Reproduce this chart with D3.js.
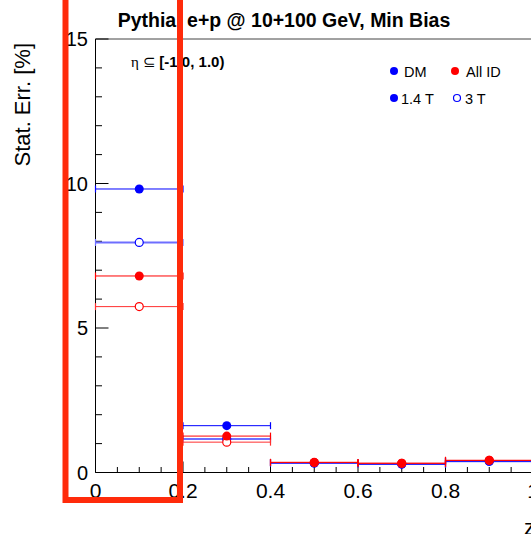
<!DOCTYPE html>
<html><head><meta charset="utf-8">
<script src="https://cdn.jsdelivr.net/npm/d3@7"></script>
<style>body{margin:0;background:#fff;} svg{display:block;font-family:"Liberation Sans",Arial,Helvetica,sans-serif;}</style>
</head><body>
<script>
const binLo = [0.0, 0.2, 0.4, 0.6, 0.8];
const binHi = [0.2, 0.4, 0.6, 0.8, 1.0];
const dm14  = [9.81, 1.62, 0.33, 0.29, 0.39];
const dm3   = [7.96, 1.16, 0.33, 0.29, 0.39];
const all14 = [6.80, 1.26, 0.35, 0.32, 0.42];
const all3  = [5.74, 1.05, 0.35, 0.32, 0.42];
const xTicks = [0, 0.2, 0.4, 0.6, 0.8, 1.0];
const yTicks = [0, 5, 10, 15];
const title = "Pythia, e+p @ 10+100 GeV, Min Bias";

const W = 531, H = 534;
const svg = d3.select("body").append("svg").attr("width", W).attr("height", H);
const x = d3.scaleLinear().domain([0, 1]).range([95.5, 533]);
const y = d3.scaleLinear().domain([0, 15]).range([472.5, 39]);

// frame
svg.append("line").attr("x1", x(0)).attr("x2", W+5).attr("y1", y(15)).attr("y2", y(15)).attr("stroke", "#444").attr("stroke-width", 1);

// x axis
const xMinor = d3.range(0, 1.0001, 0.05);
const gx = svg.append("g");
gx.append("line").attr("x1", x(0)).attr("x2", W+5).attr("y1", y(0)).attr("y2", y(0)).attr("stroke", "#000");
gx.selectAll(".mn").data(xMinor).join("line").attr("x1", d => x(d)).attr("x2", d => x(d))
  .attr("y1", y(0)).attr("y2", (d, i) => y(0) - (i % 4 === 0 ? 11 : 5.5)).attr("stroke", "#000");
gx.selectAll("text").data(xTicks).join("text").attr("x", d => x(d)).attr("y", 498)
  .attr("text-anchor", "middle").attr("font-size", 21).text(d => d3.format("")(d === 1 ? 1 : d));

// y axis
const yMinor = d3.range(0, 15.0001, 1);
const gy = svg.append("g");
gy.append("line").attr("x1", x(0)).attr("x2", x(0)).attr("y1", y(0)).attr("y2", y(15)).attr("stroke", "#000");
gy.selectAll(".mn").data(yMinor).join("line").attr("y1", d => y(d)).attr("y2", d => y(d))
  .attr("x1", x(0)).attr("x2", d => x(0) + (d % 5 === 0 ? 13 : 6.5)).attr("stroke", "#000");
gy.selectAll("text").data(yTicks).join("text").attr("x", 88).attr("y", d => y(d) + 7)
  .attr("text-anchor", "end").attr("font-size", 20).text(d => d);

// axis titles
svg.append("text").attr("transform", "translate(30,43) rotate(-90)").attr("text-anchor", "end")
  .attr("font-size", 22).text("Stat. Err. [%]");
svg.append("text").attr("x", 535).attr("y", 535).attr("text-anchor", "end").attr("font-size", 22).text("z");

// title
svg.append("text").attr("x", 284).attr("y", 27).attr("text-anchor", "middle").attr("font-size", 19.5)
  .attr("font-weight", "bold").text(title);

// eta label
const eta = svg.append("text").attr("x", 131).attr("y", 67).attr("font-size", 15);
eta.append("tspan").attr("font-family", "'Liberation Serif',serif").text("η ⊆ ");
eta.append("tspan").attr("font-weight", "bold").text("[-1.0, 1.0)");

// series
const series = [
  {vals: dm3,   color: "#0000ff", line: "#6e6eff", lw: 2, filled: false},
  {vals: dm14,  color: "#0000ff", line: "#0000ff", lw: 1, filled: true},
  {vals: all3,  color: "#ff0000", line: "#ff3030", lw: 1, filled: false},
  {vals: all14, color: "#ff0000", line: "#ff0000", lw: 1, filled: true}
];
series.forEach(s => {
  const g = svg.append("g");
  const idx = d3.range(binLo.length);
  g.selectAll(".eb").data(idx).join("line").attr("x1", i => x(binLo[i])).attr("x2", i => x(binHi[i]))
    .attr("y1", i => y(s.vals[i])).attr("y2", i => y(s.vals[i])).attr("stroke", s.line).attr("stroke-width", s.lw);
  g.selectAll(".capL").data(idx).join("line").attr("x1", i => x(binLo[i])).attr("x2", i => x(binLo[i]))
    .attr("y1", i => y(s.vals[i]) - 3.5).attr("y2", i => y(s.vals[i]) + 3.5).attr("stroke", s.line).attr("stroke-width", 1.2);
  g.selectAll(".capR").data(idx).join("line").attr("x1", i => x(binHi[i])).attr("x2", i => x(binHi[i]))
    .attr("y1", i => y(s.vals[i]) - 3.5).attr("y2", i => y(s.vals[i]) + 3.5).attr("stroke", s.line).attr("stroke-width", 1.2);
  g.selectAll("circle").data(idx).join("circle").attr("cx", i => x((binLo[i] + binHi[i]) / 2))
    .attr("cy", i => y(s.vals[i])).attr("r", s.filled ? 4.5 : 4)
    .attr("fill", s.filled ? s.color : "#fff").attr("stroke", s.color).attr("stroke-width", s.filled ? 0 : 1.2);
});

// legend
const legend = [
  {cx: 394, cy: 71, filled: true, color: "#0000ff", tx: 404, ty: 77, label: "DM"},
  {cx: 455, cy: 71, filled: true, color: "#ff0000", tx: 466, ty: 77, label: "All ID"},
  {cx: 394, cy: 98, filled: true, color: "#0000ff", tx: 401, ty: 104, label: "1.4 T"},
  {cx: 457, cy: 98, filled: false, color: "#0000ff", tx: 465, ty: 104, label: "3 T"}
];
const lg = svg.append("g");
lg.selectAll("circle").data(legend).join("circle").attr("cx", d => d.cx).attr("cy", d => d.cy).attr("r", d => d.filled ? 4 : 3.5)
  .attr("fill", d => d.filled ? d.color : "#fff").attr("stroke", d => d.color).attr("stroke-width", d => d.filled ? 0 : 1.2);
lg.selectAll("text").data(legend).join("text").attr("x", d => d.tx).attr("y", d => d.ty).attr("font-size", 14.5).text(d => d.label);

// highlight box
svg.append("rect").attr("x", 65.5).attr("y", -5).attr("width", 114.5).attr("height", 505)
  .attr("fill", "none").attr("stroke", "#ff2a0a").attr("stroke-width", 6);
</script>
</body></html>
